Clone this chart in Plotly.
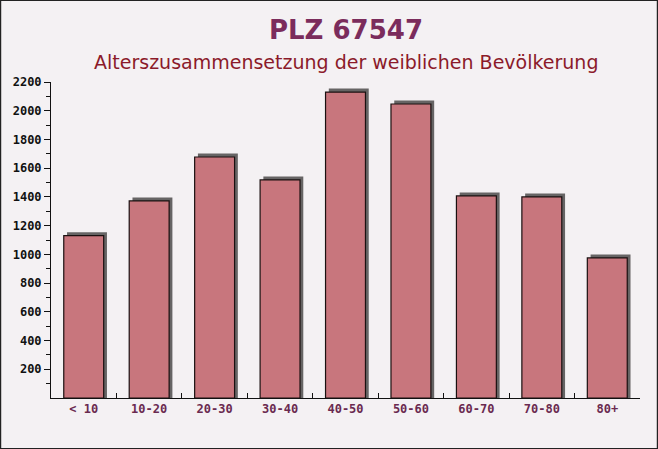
import plotly.graph_objects as go

categories = ["< 10", "10-20", "20-30", "30-40", "40-50", "50-60", "60-70", "70-80", "80+"]
values = [1130, 1372, 1678, 1518, 2130, 2047, 1407, 1400, 975]
y_ticks = list(range(200, 2201, 200))

W, H = 658, 449
ml, mr, mt, mb = 51, 18, 82, 51
pw = W - ml - mr
ph = H - mt - mb

fig = go.Figure()
# shadow
fig.add_trace(go.Bar(
    x=categories, y=[v + 24 for v in values], width=0.61, offset=-0.305 + 0.05,
    marker=dict(color="#666464", line=dict(width=0)), hoverinfo="skip", showlegend=False))
fig.add_trace(go.Bar(
    x=categories, y=values, width=0.61, offset=-0.305,
    marker=dict(color="rgb(200,118,125)", line=dict(color="#1a1010", width=1.2)),
    showlegend=False))

fig.update_layout(
    width=W, height=H, barmode="overlay",
    margin=dict(l=ml, r=mr, t=mt, b=mb),
    paper_bgcolor="#f4f1f3", plot_bgcolor="#f4f1f3",
    annotations=[
        dict(text="<b>PLZ 67547</b>", xref="paper", yref="paper", x=0.5, y=1 + (mt - 30) / ph,
             showarrow=False, font=dict(family="DejaVu Sans", size=26, color="#7b2c5c"),
             xanchor="center", yanchor="middle"),
        dict(text="Alterszusammensetzung der weiblichen Bevölkerung", xref="paper", yref="paper",
             x=0.5, y=1 + (mt - 62) / ph, showarrow=False,
             font=dict(family="DejaVu Sans", size=19, color="#8b1a2a"),
             xanchor="center", yanchor="middle"),
    ],
    shapes=[dict(type="rect", xref="paper", yref="paper",
                 x0=-ml / pw + 0.0008, x1=1 + mr / pw - 0.0008,
                 y0=-mb / ph + 0.001, y1=1 + mt / ph - 0.001,
                 line=dict(color="#222", width=1.5), layer="above")],
)
fig.update_xaxes(
    showline=True, linecolor="#111", linewidth=1, ticks="inside", ticklen=5,
    tickson="boundaries", tickcolor="#111",
    tickfont=dict(family="DejaVu Sans Mono", size=12, color="#6a2a50", weight="bold"),
    showgrid=False, range=[-0.5, 8.5])
fig.update_yaxes(
    range=[0, 2200], tickvals=y_ticks, showline=True, linecolor="#111", linewidth=1,
    ticks="outside", ticklen=6, tickcolor="#111",
    minor=dict(tickvals=list(range(100, 2200, 200)), ticks="outside", ticklen=4, tickcolor="#111"),
    tickfont=dict(family="DejaVu Sans Mono", size=12, color="#111", weight="bold"),
    showgrid=False, zeroline=False)

fig.write_html("out.html")
